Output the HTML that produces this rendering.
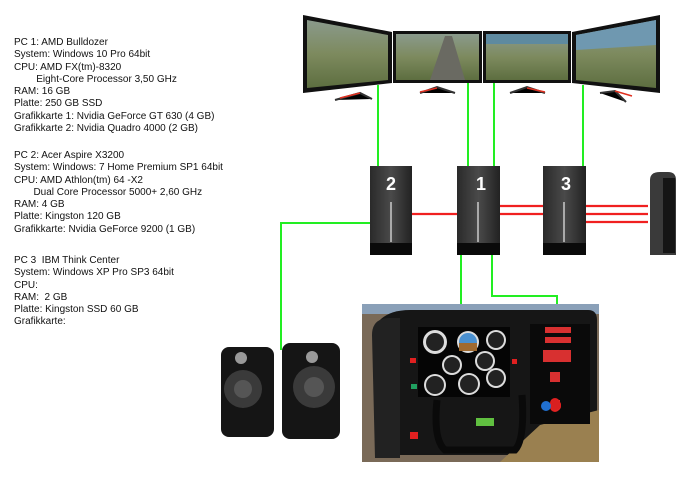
<!DOCTYPE html>
<html><head><style>
body{margin:0;background:#fff;width:700px;height:490px;overflow:hidden;position:relative;font-family:"Liberation Sans",Arial,sans-serif}
.t{position:absolute;left:14px;font-size:10px;line-height:12.3px;color:#111;white-space:pre}
svg{position:absolute;left:0;top:0}
</style></head><body>
<div class="t" style="top:37px">PC 1: AMD Bulldozer
System: Windows 10 Pro 64bit
CPU: AMD FX(tm)-8320
        Eight-Core Processor 3,50 GHz
RAM: 16 GB
Platte: 250 GB SSD
Grafikkarte 1: Nvidia GeForce GT 630 (4 GB)
Grafikkarte 2: Nvidia Quadro 4000 (2 GB)</div>
<div class="t" style="top:150px">PC 2: Acer Aspire X3200
System: Windows: 7 Home Premium SP1 64bit
CPU: AMD Athlon(tm) 64 -X2
       Dual Core Processor 5000+ 2,60 GHz
RAM: 4 GB
Platte: Kingston 120 GB
Grafikkarte: Nvidia GeForce 9200 (1 GB)</div>
<div class="t" style="top:255px">PC 3  IBM Think Center
System: Windows XP Pro SP3 64bit
CPU:
RAM:  2 GB
Platte: Kingston SSD 60 GB
Grafikkarte:</div>
<svg width="700" height="490">
<defs>
<linearGradient id="sc" x1="0" y1="0" x2="0" y2="1"><stop offset="0" stop-color="#8a9a8c"/><stop offset=".5" stop-color="#7d8a5e"/><stop offset="1" stop-color="#5d6e40"/></linearGradient>
<linearGradient id="tw" x1="0" y1="0" x2="1" y2="0"><stop offset="0" stop-color="#2a2a2a"/><stop offset=".5" stop-color="#4a4a4a"/><stop offset="1" stop-color="#222"/></linearGradient>
</defs>
<g stroke="#22ee22" stroke-width="2" fill="none">
<path d="M378 85V166M468 83V166M494 83V166M583 85V166"/>
<path d="M370 223H281V350"/>
<path d="M461 255V333M492 255V296H557V320"/>
</g>
<g stroke="#f02020" stroke-width="2.2">
<path d="M412 214H457M500 206H543M500 214H543M586 206H648M586 214H648M586 222H648"/>
</g>
<polygon points="303,15 392,32 392,83 303,93" fill="#111"/>
<polygon points="307,20 388,35 388,80 307,88" fill="url(#sc)"/>
<rect x="393" y="31" width="89" height="52" fill="#111"/>
<rect x="396" y="34" width="83" height="46" fill="url(#sc)"/>
<path d="M430 80L445 36H452L465 80Z" fill="#6a6a62"/>
<rect x="483" y="31" width="88" height="52" fill="#111"/>
<rect x="486" y="34" width="82" height="46" fill="url(#sc)"/>
<rect x="486" y="34" width="82" height="10" fill="#5e8aa0"/>
<polygon points="572,32 660,15 660,93 572,83" fill="#111"/>
<polygon points="576,35 656,20 656,88 576,80" fill="url(#sc)"/>
<polygon points="576,35 656,20 656,45 576,50" fill="#6f98b0"/>
<g stroke="#333" stroke-width="2"><path d="M335 100L360 93 372 99M420 93L437 87 455 93M510 93L527 87 545 93M600 93L615 91 626 102"/></g>
<g stroke="#e03020" stroke-width="1.5"><path d="M340 98L360 93M420 92L437 88M527 88L545 92M615 91L632 96"/></g>
<g>
<rect x="370" y="166" width="42" height="89" fill="url(#tw)"/><rect x="370" y="243" width="42" height="12" fill="#0a0a0a"/><rect x="390" y="202" width="2" height="40" fill="#aaa"/>
<text x="391" y="190" font-family="Liberation Sans" font-weight="bold" font-size="18" fill="#fff" text-anchor="middle">2</text>
<rect x="457" y="166" width="43" height="89" fill="url(#tw)"/><rect x="457" y="243" width="43" height="12" fill="#0a0a0a"/><rect x="477" y="202" width="2" height="40" fill="#aaa"/>
<text x="481" y="190" font-family="Liberation Sans" font-weight="bold" font-size="18" fill="#fff" text-anchor="middle">1</text>
<rect x="543" y="166" width="43" height="89" fill="url(#tw)"/><rect x="543" y="243" width="43" height="12" fill="#0a0a0a"/><rect x="563" y="202" width="2" height="40" fill="#aaa"/>
<text x="566" y="190" font-family="Liberation Sans" font-weight="bold" font-size="18" fill="#fff" text-anchor="middle">3</text>
</g>
<path d="M650 180Q650 172 660 172H668Q676 172 676 180V255H650Z" fill="#3a3a3a"/>
<rect x="663" y="178" width="12" height="75" fill="#151515"/>
<!-- speakers -->
<rect x="221" y="347" width="53" height="90" rx="8" fill="#151515"/>
<circle cx="243" cy="389" r="19" fill="#3a3a3a"/><circle cx="243" cy="389" r="9" fill="#555"/><circle cx="241" cy="358" r="6" fill="#999"/>
<rect x="282" y="343" width="58" height="96" rx="8" fill="#151515"/>
<circle cx="314" cy="387" r="21" fill="#3a3a3a"/><circle cx="314" cy="387" r="10" fill="#555"/><circle cx="312" cy="357" r="6" fill="#999"/>
<!-- cockpit -->
<rect x="362" y="304" width="237" height="158" fill="#7a6a58"/>
<rect x="362" y="304" width="237" height="10" fill="#8aa0b8"/>
<path d="M380 320Q390 310 410 310H588Q597 310 597 320V455H380Z" fill="#161616"/>
<path d="M372 335Q372 318 390 318H400V458H375Z" fill="#222"/>
<path d="M540 425L599 410V462H500Z" fill="#9a8050"/>
<rect x="418" y="327" width="92" height="70" fill="#050505"/>
<g fill="#ddd"><circle cx="435" cy="342" r="12"/><circle cx="468" cy="342" r="11"/><circle cx="496" cy="340" r="10"/><circle cx="452" cy="365" r="10"/><circle cx="485" cy="361" r="10"/><circle cx="435" cy="385" r="11"/><circle cx="469" cy="384" r="11"/><circle cx="496" cy="378" r="10"/></g>
<g fill="#222"><circle cx="435" cy="342" r="9"/><circle cx="496" cy="340" r="8"/><circle cx="452" cy="365" r="8"/><circle cx="485" cy="361" r="8"/><circle cx="435" cy="385" r="9"/><circle cx="469" cy="384" r="9"/><circle cx="496" cy="378" r="8"/></g>
<circle cx="468" cy="342" r="9" fill="#4a90d0"/><rect x="459" y="343" width="18" height="8" fill="#a06a30"/>
<rect x="530" y="324" width="60" height="100" fill="#0a0a0a"/>
<g fill="#d83030"><rect x="545" y="327" width="26" height="6"/><rect x="545" y="337" width="26" height="6"/><rect x="543" y="350" width="28" height="12"/><rect x="550" y="372" width="10" height="10"/><rect x="552" y="400" width="8" height="8"/></g>
<circle cx="555" cy="403" r="5" fill="#e02020"/><circle cx="555" cy="407" r="5" fill="#e02020"/><circle cx="556" cy="406" r="5" fill="#e02828"/><circle cx="556" cy="406" r="5" fill="#e02828"/>
<circle cx="555" cy="405" r="5" fill="#e02020"/><circle cx="556" cy="405" r="5" fill="#e02020"/>
<circle cx="556" cy="405" r="5" fill="#e02020"/><circle cx="556" cy="405" r="5" fill="#e02020"/>
<circle cx="555" cy="405" r="5" fill="#d82020"/>
<circle cx="555" cy="405" r="5" fill="#d82020"/>
<circle cx="555" cy="405" r="5" fill="#d82020"/>
<circle cx="546" cy="406" r="5" fill="#2070d0"/>
<rect x="410" y="358" width="6" height="5" fill="#e02020"/><rect x="411" y="384" width="6" height="5" fill="#20a060"/><rect x="410" y="432" width="8" height="7" fill="#e02020"/><rect x="512" y="359" width="5" height="5" fill="#e02020"/>
<path d="M437 400Q433 440 445 450H515Q525 440 522 395" fill="none" stroke="#0a0a0a" stroke-width="7"/>
<rect x="476" y="418" width="18" height="8" fill="#60c040"/>
</svg>
</body></html>
